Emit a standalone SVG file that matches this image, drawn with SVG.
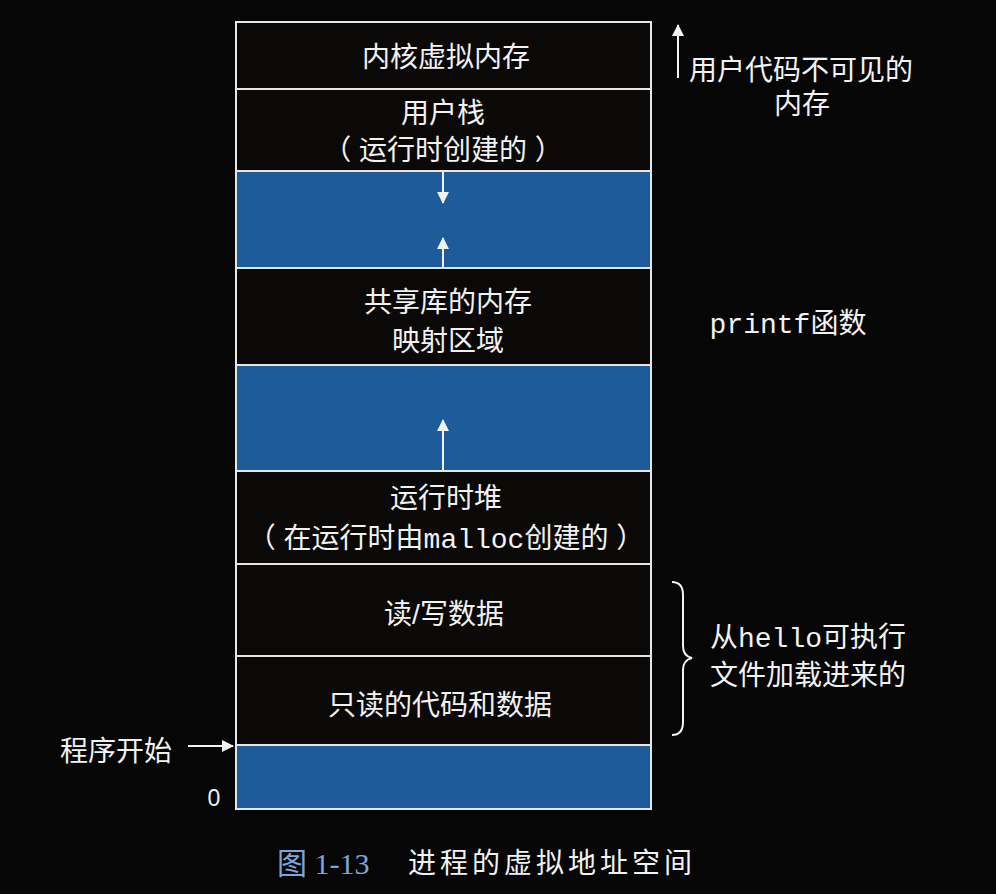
<svg xmlns="http://www.w3.org/2000/svg" width="996" height="894" viewBox="0 0 996 894">
<style>
.bg{fill:#060606}
.dark{fill:#0a0908;stroke:#e6e6e6;stroke-width:2}
.blue{fill:#1d5b9a;stroke:#e6e6e6;stroke-width:2}
.t{font-family:"Liberation Sans","Noto Sans CJK SC",sans-serif;font-size:28px;fill:#f2f2f2;text-anchor:middle}
.m{font-family:"Liberation Mono","DejaVu Sans Mono",monospace}
.ln{stroke:#f2f2f2;stroke-width:2;fill:none}
</style>
<defs>
<marker id="ah" viewBox="0 0 12 12" refX="11" refY="6" markerWidth="12" markerHeight="12" markerUnits="userSpaceOnUse" orient="auto">
<path d="M0,0 L12,6 L0,12 z" fill="#f2f2f2"/>
</marker>
</defs>
<rect class="bg" x="0" y="0" width="996" height="894"/>

<g id="kernel"><rect class="dark" x="236" y="22" width="415" height="67"/><text class="t" x="446" y="67">内核虚拟内存</text></g>
<g id="stack"><rect class="dark" x="236" y="89" width="415" height="82"/><text class="t" x="443" y="123">用户栈</text><text class="t" x="443" y="160">（ 运行时创建的 ）</text></g>
<g id="gap1"><rect class="blue" x="236" y="171" width="415" height="97"/></g>
<g id="shared"><rect class="dark" x="236" y="268" width="415" height="97"/><text class="t" x="448" y="312">共享库的内存</text><text class="t" x="448" y="351">映射区域</text></g>
<g id="gap2"><rect class="blue" x="236" y="365" width="415" height="106"/></g>
<g id="heap"><rect class="dark" x="236" y="471" width="415" height="93"/><text class="t" x="446" y="508">运行时堆</text><text class="t" x="446" y="548">（ 在运行时由<tspan class="m">malloc</tspan>创建的 ）</text></g>
<g id="rwdata"><rect class="dark" x="236" y="564" width="415" height="92"/><text class="t" x="444" y="624">读/写数据</text></g>
<g id="rodata"><rect class="dark" x="236" y="656" width="415" height="89"/><text class="t" x="440" y="715">只读的代码和数据</text></g>
<g id="gap3"><rect class="blue" x="236" y="745" width="415" height="64"/></g>

<g id="connectors">
<line class="ln" x1="443" y1="172" x2="443" y2="203" marker-end="url(#ah)"/>
<line class="ln" x1="443" y1="267" x2="443" y2="238" marker-end="url(#ah)"/>
<line class="ln" x1="443" y1="470" x2="443" y2="420" marker-end="url(#ah)"/>
<line class="ln" x1="678" y1="78" x2="678" y2="25" marker-end="url(#ah)"/>
<line class="ln" x1="188" y1="746" x2="233" y2="746" marker-end="url(#ah)"/>
<path class="ln" d="M672,582 Q683,582 683,595 L683,646 Q683,656 692,658 Q683,660 683,670 L683,722 Q683,735 672,735"/>
</g>

<g id="labels">
<text class="t" x="801" y="80">用户代码不可见的</text>
<text class="t" x="802" y="114">内存</text>
<text class="t" x="788" y="333"><tspan class="m">printf</tspan>函数</text>
<text class="t" x="808" y="647">从<tspan class="m">hello</tspan>可执行</text>
<text class="t" x="808" y="685">文件加载进来的</text>
<text class="t" x="116" y="761">程序开始</text>
<text class="t" x="214" y="806" style="font-size:23px">0</text>
</g>

<g id="caption">
<text x="277" y="874" style="font-family:'Liberation Serif','Noto Sans CJK SC',serif;font-size:30px;fill:#7fa4d6">图 1-13</text>
<text x="408" y="873" style="font-family:'Liberation Sans','Noto Sans CJK SC',sans-serif;font-size:28px;fill:#f2f2f2;letter-spacing:4px">进程的虚拟地址空间</text>
</g>
</svg>
